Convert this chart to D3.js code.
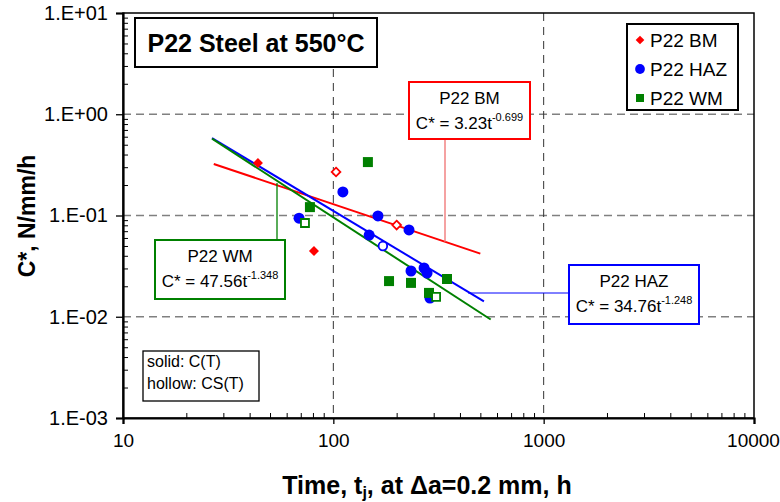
<!DOCTYPE html>
<html>
<head>
<meta charset="utf-8">
<script src="https://cdn.jsdelivr.net/npm/d3@7"></script>
<style>
  body { margin: 0; background: #fff; }
  svg { font-family: "Liberation Sans", Arial, sans-serif; }
</style>
</head>
<body>
<div id="wrapper"></div>
<script>
// data
const xTicks = [10, 100, 1000, 10000]
const xTickLabels = ["10", "100", "1000", "10000"]
const yTicks = [0.001, 0.01, 0.1, 1, 10]
const yTickLabels = ["1.E-03", "1.E-02", "1.E-01", "1.E+00", "1.E+01"]

const bmSolidT = [43.8, 80.9]
const bmSolidC = [0.330, 0.0446]
const bmHollowT = [103, 200]
const bmHollowC = [0.269, 0.0805]

const hazSolidT = [68.7, 111, 163, 148, 229, 234, 270, 279, 288]
const hazSolidC = [0.094, 0.171, 0.099, 0.064, 0.072, 0.0283, 0.0303, 0.027, 0.0153]
const hazHollowT = [172]
const hazHollowC = [0.050]

const wmSolidT = [77.4, 146, 184, 234, 285, 347]
const wmSolidC = [0.121, 0.337, 0.0225, 0.0216, 0.0172, 0.0236]
const wmHollowT = [73.3, 308]
const wmHollowC = [0.0843, 0.0157]

// trendline end points
const bmFitT = [27, 500]
const bmFitC = [0.323, 0.042]
const hazFitT = [26.5, 520]
const hazFitC = [0.582, 0.0142]
const wmFitT = [26.5, 560]
const wmFitC = [0.5735, 0.0094]

const seriesNames = ["P22 BM", "P22 HAZ", "P22 WM"]
const seriesColors = ["#ff0000", "#0000ff", "#008000"]

// dimensions
let dimensions = {
  width: 780,
  height: 502,
  margin: { top: 13, right: 26, bottom: 84, left: 123 },
}
dimensions.boundedWidth = dimensions.width - dimensions.margin.left - dimensions.margin.right
dimensions.boundedHeight = dimensions.height - dimensions.margin.top - dimensions.margin.bottom

const wrapper = d3.select("#wrapper")
  .append("svg")
    .attr("width", dimensions.width)
    .attr("height", dimensions.height)

const bounds = wrapper.append("g")
    .attr("transform", `translate(${dimensions.margin.left},${dimensions.margin.top})`)

// scales
const xScale = d3.scaleLog()
    .domain([10, 10000])
    .range([0, dimensions.boundedWidth])
const yScale = d3.scaleLog()
    .domain([0.001, 10])
    .range([dimensions.boundedHeight, 0])

// gridlines
bounds.selectAll(".hgrid")
  .data(yTicks.slice(1, -1))
  .join("line")
    .attr("x1", 0).attr("x2", dimensions.boundedWidth)
    .attr("y1", d => yScale(d)).attr("y2", d => yScale(d))
    .attr("stroke", "#808080").attr("stroke-width", 1.3)
    .attr("stroke-dasharray", "8,5")
bounds.selectAll(".vgrid")
  .data(xTicks.slice(1, -1))
  .join("line")
    .attr("x1", d => xScale(d)).attr("x2", d => xScale(d))
    .attr("y1", 0).attr("y2", dimensions.boundedHeight)
    .attr("stroke", "#333").attr("stroke-width", 1)
    .attr("stroke-dasharray", "8,6")

// minor ticks
const minorX = []
const minorY = []
for (let e = 1; e < 4; e++) for (let k = 2; k < 10; k++) minorX.push(k * 10 ** e)
for (let e = -3; e < 1; e++) for (let k = 2; k < 10; k++) minorY.push(k * 10 ** e)

bounds.append("g")
    .attr("transform", `translate(0,${dimensions.boundedHeight})`)
    .call(d3.axisBottom(xScale).tickValues(minorX).tickSize(-5).tickFormat(""))
    .call(g => g.select(".domain").remove())
    .call(g => g.selectAll("line").attr("stroke-width", 1))
bounds.append("g")
    .call(d3.axisLeft(yScale).tickValues(minorY).tickSize(-5).tickFormat(""))
    .call(g => g.select(".domain").remove())
    .call(g => g.selectAll("line").attr("stroke-width", 1))

// frame
bounds.append("rect")
    .attr("width", dimensions.boundedWidth)
    .attr("height", dimensions.boundedHeight)
    .attr("fill", "none").attr("stroke", "#000").attr("stroke-width", 1.5)

// axes
const xAxis = bounds.append("g")
    .attr("transform", `translate(0,${dimensions.boundedHeight})`)
    .call(d3.axisBottom(xScale).tickValues(xTicks).tickSize(6).tickPadding(10)
      .tickFormat((d, i) => xTickLabels[i]))
xAxis.select(".domain").attr("stroke-width", 2.2)
xAxis.selectAll("line").attr("stroke-width", 1.3)
xAxis.selectAll("text").attr("font-size", 19).attr("fill", "#000")
    .attr("font-family", "'Liberation Sans', Arial, sans-serif")
// last label sits right at the window edge
xAxis.selectAll("text").filter(d => d === 10000).attr("dx", -1)

const yAxis = bounds.append("g")
    .call(d3.axisLeft(yScale).tickValues(yTicks).tickSize(7).tickPadding(8)
      .tickFormat((d, i) => yTickLabels[i]))
yAxis.select(".domain").attr("stroke-width", 2.2)
yAxis.selectAll("line").attr("stroke-width", 1.3)
yAxis.selectAll("text").attr("font-size", 20).attr("fill", "#000")
    .attr("font-family", "'Liberation Sans', Arial, sans-serif")

// axis titles
wrapper.append("text")
    .attr("x", 427).attr("y", 494)
    .attr("text-anchor", "middle")
    .attr("font-size", 25).attr("font-weight", "bold")
    .call(t => {
      t.append("tspan").text("Time, t")
      t.append("tspan").attr("font-size", 16).attr("dy", 4).text("j")
      t.append("tspan").attr("dy", -4).text(", at \u0394a=0.2 mm, h")
    })
wrapper.append("text")
    .attr("transform", "translate(35,216) rotate(-90)")
    .attr("text-anchor", "middle")
    .attr("font-size", 23).attr("font-weight", "bold")
    .text("C*, N/mm/h")

// connectors for equation boxes
const bmBox = { x: 409, y: 82, w: 121, h: 57 }
const wmBox = { x: 155, y: 240, w: 130, h: 59 }
const hazBox = { x: 569, y: 265, w: 130, h: 59 }

wrapper.append("line")
    .attr("x1", 445).attr("x2", 445).attr("y1", bmBox.y + bmBox.h).attr("y2", 242)
    .attr("stroke", "#f07070").attr("stroke-width", 1.3)
wrapper.append("line")
    .attr("x1", 277).attr("x2", 277).attr("y1", wmBox.y).attr("y2", 183)
    .attr("stroke", "#008000").attr("stroke-width", 1.3)
wrapper.append("line")
    .attr("x1", 468).attr("x2", hazBox.x).attr("y1", 293).attr("y2", 293)
    .attr("stroke", "#0000ff").attr("stroke-width", 1)

// trendlines
const line = d3.line().x(d => xScale(d[0])).y(d => yScale(d[1]))
const fits = [
  [bmFitT, bmFitC, seriesColors[0]],
  [hazFitT, hazFitC, seriesColors[1]],
  [wmFitT, wmFitC, seriesColors[2]],
]
fits.forEach(([t, c, col]) => {
  bounds.append("path")
      .attr("d", line(d3.zip(t, c)))
      .attr("fill", "none").attr("stroke", col).attr("stroke-width", 2)
})

// markers
function drawPoints(ts, cs, shape, color, hollow) {
  const pts = d3.zip(ts, cs)
  if (shape === "circle") {
    bounds.append("g").selectAll("circle")
      .data(pts)
      .join("circle")
        .attr("cx", d => xScale(d[0]))
        .attr("cy", d => yScale(d[1]))
        .attr("r", hollow ? 4.3 : 5.5)
        .attr("fill", hollow ? "#fff" : color)
        .attr("stroke", color).attr("stroke-width", hollow ? 1.8 : 0)
  } else {
    const sym = shape === "diamond"
      ? d3.symbol().type(d3.symbolDiamond2).size(hollow ? 48 : 64)
      : d3.symbol().type(d3.symbolSquare).size(hollow ? 64 : 100)
    bounds.append("g").selectAll("path")
      .data(pts)
      .join("path")
        .attr("transform", d => `translate(${xScale(d[0])},${yScale(d[1])})`)
        .attr("d", sym)
        .attr("fill", hollow ? "#fff" : color)
        .attr("stroke", color).attr("stroke-width", hollow ? 1.8 : 0)
  }
}
drawPoints(bmSolidT, bmSolidC, "diamond", seriesColors[0], false)
drawPoints(bmHollowT, bmHollowC, "diamond", seriesColors[0], true)
drawPoints(hazSolidT, hazSolidC, "circle", seriesColors[1], false)
drawPoints(hazHollowT, hazHollowC, "circle", seriesColors[1], true)
drawPoints(wmSolidT, wmSolidC, "square", seriesColors[2], false)
drawPoints(wmHollowT, wmHollowC, "square", seriesColors[2], true)

// equation boxes
function eqBox(b, color, title, coef, expo) {
  const g = wrapper.append("g")
  g.append("rect")
      .attr("x", b.x).attr("y", b.y).attr("width", b.w).attr("height", b.h)
      .attr("fill", "#fff").attr("stroke", color).attr("stroke-width", 2)
  g.append("text")
      .attr("x", b.x + b.w / 2).attr("y", b.y + 22)
      .attr("text-anchor", "middle").attr("font-size", 17)
      .text(title)
  const t = g.append("text")
      .attr("x", b.x + b.w / 2).attr("y", b.y + 47)
      .attr("text-anchor", "middle").attr("font-size", 17)
  t.append("tspan").text(`C* = ${coef}t`)
  t.append("tspan").attr("font-size", 11).attr("dy", -8).text(expo)
}
eqBox(bmBox, "#ff0000", "P22 BM", "3.23", "-0.699")
eqBox(wmBox, "#008000", "P22 WM", "47.56", "-1.348")
eqBox(hazBox, "#0000ff", "P22 HAZ", "34.76", "-1.248")

// title box
wrapper.append("rect")
    .attr("x", 135).attr("y", 18).attr("width", 242).attr("height", 49)
    .attr("fill", "#fff").attr("stroke", "#000").attr("stroke-width", 2)
wrapper.append("text")
    .attr("x", 256).attr("y", 52)
    .attr("text-anchor", "middle")
    .attr("font-size", 25).attr("font-weight", "bold")
    .text("P22 Steel at 550\u00b0C")

// legend
const legend = wrapper.append("g")
legend.append("rect")
    .attr("x", 627).attr("y", 24).attr("width", 111).attr("height", 86)
    .attr("fill", "#fff").attr("stroke", "#000").attr("stroke-width", 2)
const legendShapes = [
  d3.symbol().type(d3.symbolDiamond2).size(48),
  d3.symbol().type(d3.symbolCircle).size(75),
  d3.symbol().type(d3.symbolSquare).size(64),
]
seriesNames.forEach((name, i) => {
  const y = 40 + i * 29
  legend.append("path")
      .attr("transform", `translate(640,${y})`)
      .attr("d", legendShapes[i])
      .attr("fill", seriesColors[i])
  legend.append("text")
      .attr("x", 650).attr("y", y + 7)
      .attr("font-size", 19)
      .text(name)
})

// solid / hollow note
wrapper.append("rect")
    .attr("x", 143).attr("y", 351).attr("width", 116).attr("height", 50)
    .attr("fill", "#fff").attr("stroke", "#000").attr("stroke-width", 1.3)
wrapper.append("text")
    .attr("x", 147).attr("y", 367).attr("font-size", 16)
    .text("solid: C(T)")
wrapper.append("text")
    .attr("x", 147).attr("y", 389).attr("font-size", 16)
    .text("hollow: CS(T)")
</script>
</body>
</html>
